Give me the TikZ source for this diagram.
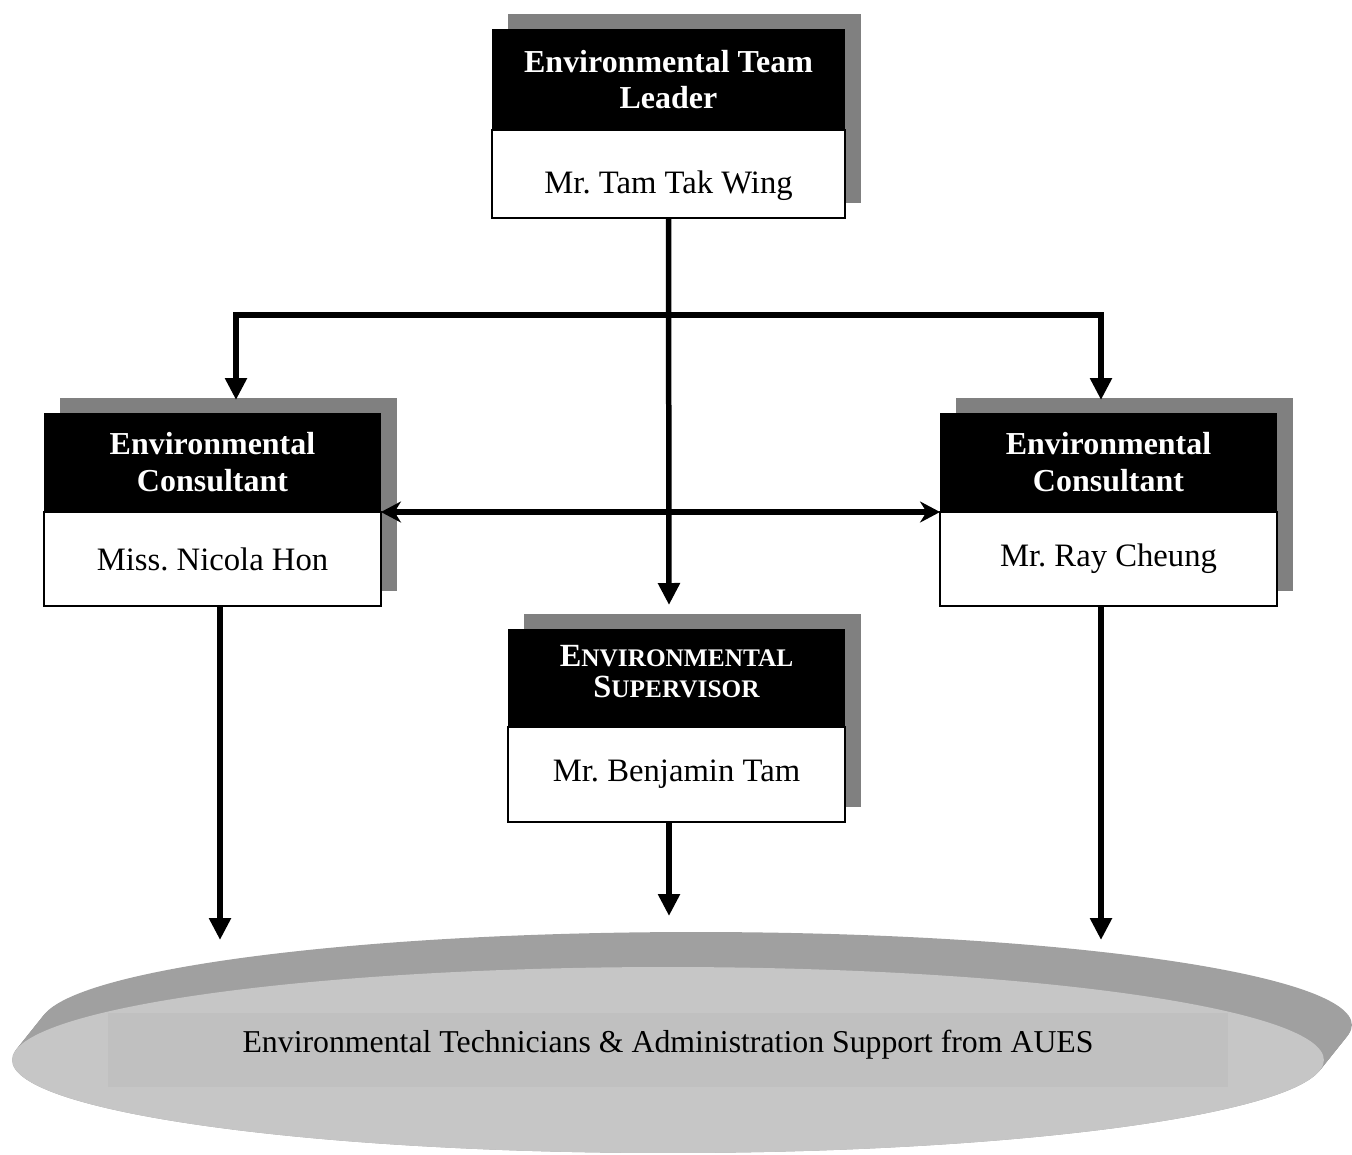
\documentclass[tikz,border=0pt]{standalone}
\usepackage{fontspec}
\setmainfont{Liberation Serif}
\usetikzlibrary{positioning,arrows.meta,shadows}
\definecolor{rimgray}{HTML}{A0A0A0}
\definecolor{facegray}{HTML}{C6C6C6}
\definecolor{textgray}{HTML}{C0C0C0}
\definecolor{boxshadow}{HTML}{808080}
\begin{document}
\frenchspacing
\begin{tikzpicture}[x=0.02cm,y=-0.02cm,>={Triangle[length=0.44cm,width=0.42cm]},
		shadowed/.style={drop shadow={shadow xshift=0.32cm,shadow yshift=0.3cm,fill=boxshadow,opacity=1}},
		hdr/.style={shadowed,fill=black,text=white,font=\fontsize{18.2}{21}\selectfont\bfseries,align=center,inner sep=0pt,outer sep=0pt},
		nm/.style={shadowed,draw=black,line width=0.7pt,fill=white,font=\fontsize{18.6}{21}\selectfont,inner sep=0pt,outer sep=0pt},
		link/.style={line width=0.11cm}]
	\useasboundingbox (0,0) rectangle (1352,1155);
	% support staff disk
	\foreach \t in {0,1,...,24}{\fill[rimgray] (668+28*\t/24,1060-35*\t/24) ellipse[x radius=13.12cm,y radius=1.86cm];}
	\fill[facegray] (668,1060) ellipse[x radius=13.12cm,y radius=1.86cm];
	\node[fill=textgray,minimum width=22.4cm,minimum height=1.48cm,text depth=0.36cm,inner sep=0pt,font=\fontsize{18.1}{21}\selectfont] (aues) at (668,1050) {Environmental Technicians \& Administration Support from AUES};
	% boxes
	\node[nm,minimum width=7.06cm,minimum height=1.76cm,text height=0.92cm] (tlname) at (668.5,174) {Mr. Tam Tak Wing};
	\node[hdr,minimum width=7.06cm,minimum height=2.02cm,above=0pt of tlname] (tlhead) {Environmental Team\\Leader};
	\node[nm,minimum width=6.74cm,minimum height=1.88cm] (lcname) at (212.5,559) {Miss. Nicola Hon};
	\node[hdr,minimum width=6.74cm,minimum height=1.98cm,above=0pt of lcname] (lchead) {Environmental\\Consultant};
	\node[nm,minimum width=6.74cm,minimum height=1.88cm] (rcname) at (1108.5,559) {Mr. Ray Cheung};
	\node[hdr,minimum width=6.74cm,minimum height=1.98cm,above=0pt of rcname] (rchead) {Environmental\\Consultant};
	\node[nm,minimum width=6.74cm,minimum height=1.9cm] (svname) at (676.5,774.5) {Mr. Benjamin Tam};
	\node[hdr,minimum width=6.74cm,minimum height=1.96cm,above=0pt of svname,text depth=0.26cm,font=\fontsize{14.4}{17.6}\selectfont\bfseries] (svhead) {{\fontsize{18.4}{17.6}\selectfont E}NVIRONMENTAL\\{\fontsize{18.4}{17.6}\selectfont S}UPERVISOR};
	% arrow ends
	\coordinate (fork) at (669,315);
	\coordinate (svin) at (669,605);
	\coordinate (lcin) at (236,400);
	\coordinate (rcin) at (1101,400);
	\coordinate (lcout) at (220,940);
	\coordinate (svout) at (669,916);
	\coordinate (rcout) at (1101,940);
	\draw[link,->] (tlname.south) -- (svin);
	\draw[link,->] (fork) -| (lcin);
	\draw[link,->] (fork) -| (rcin);
	\draw[link,{Stealth[length=0.4cm,width=0.42cm]}-{Stealth[length=0.4cm,width=0.42cm]}] (lchead.south east) -- (rchead.south west);
	\draw[link,->] (lcname.south -| lcout) -- (lcout);
	\draw[link,->] (svname.south -| svout) -- (svout);
	\draw[link,->] (rcname.south -| rcout) -- (rcout);
\end{tikzpicture}
\end{document}
